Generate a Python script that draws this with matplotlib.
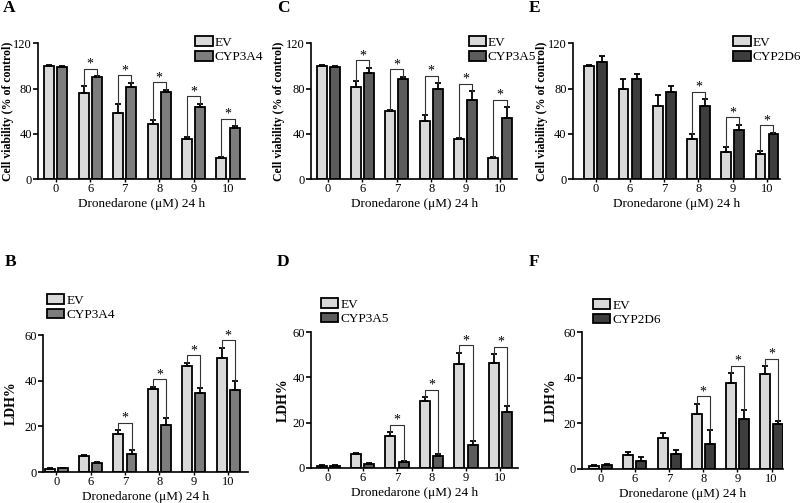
import numpy as np
import matplotlib.pyplot as plt
from matplotlib.patches import Patch

plt.rcParams['font.family'] = ['Liberation Serif', 'DejaVu Serif']

doses = ['0', '6', '7', '8', '9', '10']

# cell viability (% of control)
ev_a = [100, 76, 58, 49, 35, 19]
ev_a_err = [0.5, 6, 8, 3, 2, 0.5]
cyp3a4_v = [99, 90, 81, 77, 64, 45]
cyp3a4_v_err = [1, 1, 4, 2, 2.5, 1.5]

ev_c = [100, 81, 60, 51, 35, 19]
ev_c_err = [0.5, 6, 1, 5.5, 1.5, 0.5]
cyp3a5_v = [99, 94, 88, 80, 70, 54]
cyp3a5_v_err = [1, 4.5, 2.5, 4.5, 7.5, 9.5]

ev_e = [99.5, 80, 65, 35, 24, 22]
ev_e_err = [1, 8, 9, 5, 4, 3]
cyp2d6_v = [103.5, 88.5, 77, 64.5, 43.5, 39.5]
cyp2d6_v_err = [5, 4, 5, 6, 4.5, 1.5]

# LDH release
ev_b = [1.5, 7.0, 16.5, 36.2, 46.7, 50.2]
ev_b_err = [0.3, 0.4, 1.8, 1.2, 1.2, 4.3]
cyp3a4_l = [1.6, 4.0, 8.0, 20.5, 34.7, 35.9]
cyp3a4_l_err = [0.3, 0.3, 1.5, 3.0, 2.0, 3.9]

ev_d = [1.0, 6.1, 14.2, 29.6, 46.1, 46.4]
ev_d_err = [0.3, 0.5, 1.6, 1.6, 4.9, 3.8]
cyp3a5_l = [1.0, 1.9, 2.8, 5.4, 10.2, 24.9]
cyp3a5_l_err = [0.3, 0.5, 0.4, 0.9, 1.8, 2.6]

ev_f = [1.5, 6.0, 13.8, 24.0, 37.8, 41.6]
ev_f_err = [0.3, 1.4, 2.2, 4.5, 4.1, 3.5]
cyp2d6_l = [1.9, 3.6, 6.5, 10.9, 21.8, 19.8]
cyp2d6_l_err = [0.3, 1.5, 1.9, 6.0, 4.2, 1.4]

sig_a = [1, 2, 3, 4, 5]
sig_c = [1, 2, 3, 4, 5]
sig_e = [3, 4, 5]
sig_b = [2, 3, 4, 5]
sig_d = [2, 3, 4, 5]
sig_f = [3, 4, 5]

ev_col = '#d9d9d9'
col_3a4 = '#7d7d7d'
col_3a5 = '#5c5c5c'
col_2d6 = '#3d3d3d'


def panel(ax, ev, ev_err, cyp, cyp_err, color, sig, ymax, ystep, ylabel, xlim, ylab_x):
    x = np.arange(len(doses))
    off, w = 0.19, 0.29
    ax.bar(x - off, ev, w, color=ev_col, edgecolor='black', linewidth=1.3, zorder=2)
    ax.bar(x + off, cyp, w, color=color, edgecolor='black', linewidth=1.3, zorder=2)
    ax.errorbar(x - off, ev, yerr=[np.zeros(len(ev)), ev_err], fmt='none', ecolor='black',
                elinewidth=1.3, capsize=2.5, capthick=1.3, zorder=3)
    ax.errorbar(x + off, cyp, yerr=[np.zeros(len(cyp)), cyp_err], fmt='none', ecolor='black',
                elinewidth=1.3, capsize=2.5, capthick=1.3, zorder=3)
    pad = ymax * 0.055
    for i in sig:
        t1 = ev[i] + ev_err[i]
        t2 = cyp[i] + cyp_err[i]
        top = max(t1, t2) + pad
        ax.plot([i - off, i - off, i + off, i + off], [t1, top, top, t2],
                color='#333333', lw=0.8, zorder=4)
        ax.text(i, top - ymax * 0.015, '*', ha='center', va='bottom', fontsize=10)
    ax.set_xlim(*xlim)
    ax.set_ylim(0, ymax)
    ax.set_yticks(np.arange(0, ymax + 1, ystep))
    ax.set_xticks(x)
    ax.set_xticklabels(doses)
    ax.spines['top'].set_visible(False)
    ax.spines['right'].set_visible(False)
    ax.spines['left'].set_linewidth(1.2)
    ax.spines['bottom'].set_linewidth(1.2)
    ax.tick_params(axis='y', length=3.5, width=1.2, labelsize=9, pad=1)
    ax.tick_params(axis='x', length=2, width=1.0, labelsize=9, pad=1)
    ax.set_xlabel('Dronedarone (μM) 24 h', fontsize=9.5, labelpad=2)
    size = 8.5 if ylabel != 'LDH%' else 10
    ax.set_ylabel(ylabel, fontsize=size, fontweight='bold')
    ax.yaxis.set_label_coords(ylab_x, 0.5)
    handles = [Patch(facecolor=ev_col, edgecolor='black', linewidth=1.3),
               Patch(facecolor=color, edgecolor='black', linewidth=1.3)]
    return handles


def legend(ax, h, name, bx, by):
    ax.legend(h, ['EV', name], loc='upper left', bbox_to_anchor=(bx, by), frameon=False,
              fontsize=9.5, handlelength=1.3, handleheight=0.75, handletextpad=0.15,
              labelspacing=0.15, borderpad=0, borderaxespad=0)


fig = plt.figure(figsize=(8, 5.03), dpi=100)

ax_a = fig.add_axes([0.0475, 0.644, 0.259, 0.270])
ax_c = fig.add_axes([0.389, 0.644, 0.2575, 0.270])
ax_e = fig.add_axes([0.716, 0.644, 0.259, 0.270])
ax_b = fig.add_axes([0.054, 0.0616, 0.256, 0.272])
ax_d = fig.add_axes([0.389, 0.0696, 0.259, 0.270])
ax_f = fig.add_axes([0.7275, 0.0676, 0.251, 0.272])

vlab = 'Cell viability (% of control)'
h = panel(ax_a, ev_a, ev_a_err, cyp3a4_v, cyp3a4_v_err, col_3a4, sig_a, 120, 40, vlab, (-0.52, 5.5), -0.116)
legend(ax_a, h, 'CYP3A4', 0.76, 1.05)
h = panel(ax_c, ev_c, ev_c_err, cyp3a5_v, cyp3a5_v_err, col_3a5, sig_c, 120, 40, vlab, (-0.49, 5.5), -0.125)
legend(ax_c, h, 'CYP3A5', 0.765, 1.05)
h = panel(ax_e, ev_e, ev_e_err, cyp2d6_v, cyp2d6_v_err, col_2d6, sig_e, 120, 40, vlab, (-0.67, 5.38), -0.12)
legend(ax_e, h, 'CYP2D6', 0.775, 1.05)

h = panel(ax_b, ev_b, ev_b_err, cyp3a4_l, cyp3a4_l_err, col_3a4, sig_b, 60, 20, 'LDH%', (-0.38, 5.58), -0.125)
legend(ax_b, h, 'CYP3A4', 0.02, 1.30)
h = panel(ax_d, ev_d, ev_d_err, cyp3a5_l, cyp3a5_l_err, col_3a5, sig_d, 60, 20, 'LDH%', (-0.49, 5.52), -0.105)
legend(ax_d, h, 'CYP3A5', 0.048, 1.25)
h = panel(ax_f, ev_f, ev_f_err, cyp2d6_l, cyp2d6_l_err, col_2d6, sig_f, 60, 20, 'LDH%', (-0.55, 5.33), -0.12)
legend(ax_f, h, 'CYP2D6', 0.055, 1.24)

for lab, px, py in [('A', 3, 8), ('C', 277, 8), ('E', 529, 8),
                    ('B', 5, 262), ('D', 277, 262), ('F', 529, 262)]:
    fig.text(px / 800, 1 - py / 503, lab, fontsize=12.5, fontweight='bold',
             ha='left', va='center')

fig.savefig('out.png', dpi=100)
